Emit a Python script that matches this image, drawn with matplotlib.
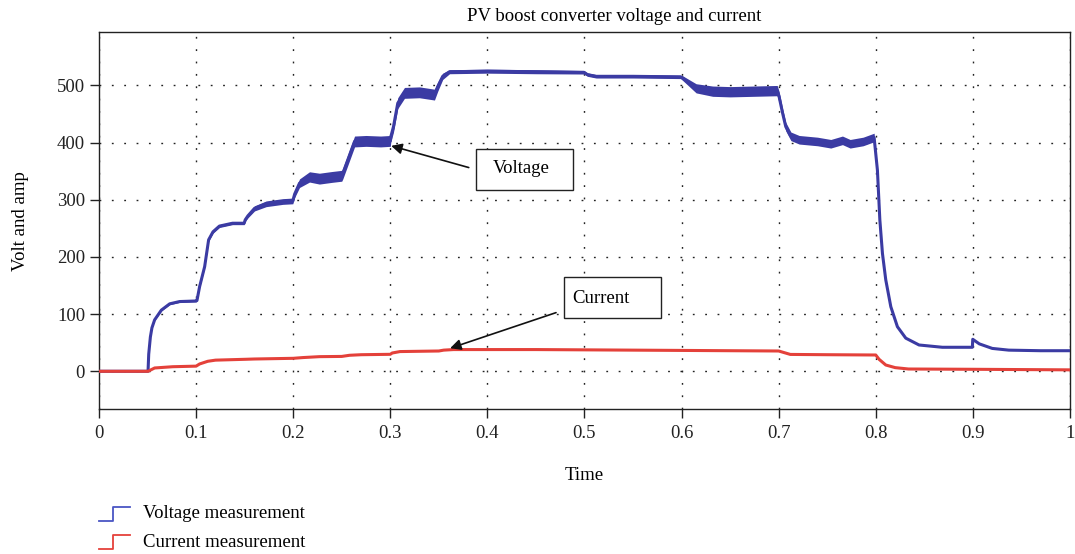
import matplotlib
matplotlib.use('Agg')
import matplotlib.pyplot as plt
from matplotlib.lines import Line2D
from matplotlib.patches import Rectangle
from matplotlib.legend_handler import HandlerBase

plt.rcParams['font.family'] = ['Liberation Serif', 'DejaVu Serif']
plt.rcParams['font.size'] = 13.5

# voltage measurement (V) and its ripple half-width
t_volt = [0, 0.0505, 0.0512, 0.0529, 0.0545, 0.0573, 0.0642, 0.0728, 0.083, 0.1,
          0.1009, 0.1036, 0.1088, 0.1129, 0.1174, 0.124, 0.1375, 0.1495,
          0.1506, 0.1534, 0.1602, 0.1722, 0.1893, 0.1996,
          0.2015, 0.2065, 0.2168, 0.227, 0.24, 0.25,
          0.2511, 0.2563, 0.2632, 0.275, 0.29, 0.3,
          0.3005, 0.3033, 0.3077, 0.3146, 0.33, 0.3455,
          0.3489, 0.354, 0.361, 0.4, 0.45, 0.4995,
          0.503, 0.512, 0.55, 0.599,
          0.601, 0.608, 0.615, 0.632, 0.65, 0.6985,
          0.7005, 0.704, 0.7073, 0.7126, 0.7211, 0.74, 0.7537, 0.7657, 0.7736, 0.787, 0.7983,
          0.8017, 0.8042, 0.8069, 0.8103, 0.8155, 0.8223, 0.8309, 0.8446, 0.8686, 0.8995,
          0.8999, 0.9066, 0.92, 0.937, 0.97, 1.0]
volt = [0, 0, 30, 60, 76, 90, 107, 118, 122, 123,
        124, 148, 183, 230, 244, 254, 259, 259,
        265, 272, 285, 293, 297, 298,
        310, 329, 340, 337, 340, 342,
        346, 370, 402, 403, 402, 403,
        410, 428, 469, 487, 488, 484,
        498, 516, 524, 525, 524, 523,
        519, 516, 516, 515,
        513, 504, 495, 490, 489, 491,
        480, 452, 428, 411, 405, 402, 398, 404, 398, 402, 409,
        352, 265, 206, 160, 113, 78, 58, 46, 42, 42,
        56, 48, 40, 37, 36, 36]
ripple = [0, 0, 1, 1, 1, 1, 1.5, 1.5, 1.5, 1.5,
          1.5, 2, 2, 2.5, 2.5, 2.5, 2.5, 2.5,
          3, 3.5, 4.5, 5, 5, 5,
          6, 7.5, 9, 9.5, 9.5, 9.5,
          9.5, 9.5, 9.5, 9.5, 9.5, 9.5,
          9.5, 9.5, 9.5, 9.5, 9.5, 9.5,
          8, 5.5, 3.5, 3.5, 3.5, 3,
          3, 3, 3, 3,
          4, 6, 8, 9, 9, 9,
          9, 8, 7.5, 7.5, 7.5, 7.5, 7.5, 7.5, 7.5, 7.5, 7.5,
          4, 2, 0.5, 0, 0, 0, 0, 0, 0, 0,
          0, 0, 0, 0, 0, 0]

# current measurement (A)
t_amp = [0, 0.0505, 0.0573, 0.076, 0.1, 0.1036, 0.112, 0.12, 0.1509, 0.16,
         0.2, 0.21, 0.227, 0.25, 0.258, 0.27, 0.3, 0.302, 0.31, 0.35,
         0.355, 0.365, 0.45, 0.5, 0.6, 0.65, 0.7, 0.705, 0.712, 0.75,
         0.8, 0.8034, 0.8103, 0.82, 0.8337, 0.9, 1.0]
amp = [0, 0, 5.8, 8, 9, 12.8, 17.5, 19.5, 21, 21.5,
       22.7, 24, 25.6, 26, 28, 29, 29.7, 32, 34.5, 35.5,
       37, 38, 38, 37.5, 36.5, 36, 35.5, 33, 29.5, 29,
       28.5, 21, 11, 6.4, 4, 3.5, 2.5]

x_ticks = [0, 0.1, 0.2, 0.3, 0.4, 0.5, 0.6, 0.7, 0.8, 0.9, 1]
x_labels = ['0', '0.1', '0.2', '0.3', '0.4', '0.5', '0.6', '0.7', '0.8', '0.9', '1']
y_ticks = [0, 100, 200, 300, 400, 500]

blue = '#3b3ba3'
red = '#e4413a'


class StepHandler(HandlerBase):
    # little step symbol like a scope legend
    def create_artists(self, legend, orig, xd, yd, w, h, fontsize, trans):
        xs = [xd, xd + w * 0.46, xd + w * 0.46, xd + w]
        ys = [yd - h * 0.2, yd - h * 0.2, yd + h * 0.85, yd + h * 0.85]
        ln = Line2D(xs, ys, color=orig.get_color(), lw=1.3, transform=trans)
        return [ln]


fig = plt.figure(figsize=(10.75, 5.54), dpi=100)
ax = fig.add_axes([0.0921, 0.2617, 0.9032, 0.68])

vlo = [v - r for v, r in zip(volt, ripple)]
vhi = [v + r for v, r in zip(volt, ripple)]
ax.fill_between(t_volt, vlo, vhi, color=blue, lw=0, zorder=3)
ax.plot(t_volt, volt, color=blue, lw=2.2, zorder=3)
ax.plot(t_amp, amp, color=red, lw=2.2, zorder=4)

ax.set_xlim(0, 1)
ax.set_ylim(-66, 593)
ax.set_xticks(x_ticks)
ax.set_xticklabels(x_labels)
ax.set_yticks(y_ticks)
ax.tick_params(direction='out', length=6.5, width=1.0, labelsize=13.5, colors='#222222')
ax.tick_params(axis='x', pad=5)
ax.grid(True, color='#222222', linestyle=(0, (1.3, 7.6)), lw=1.0)
for sp in ax.spines.values():
    sp.set_linewidth(1.0)
    sp.set_color('#222222')

ax.set_title('PV boost converter voltage and current', fontsize=13.5, pad=8, x=0.531)
ax.set_xlabel('Time', fontsize=13.5, labelpad=18)
ax.set_ylabel('Volt and amp', fontsize=13.5, labelpad=20)

# callout boxes
ax.add_patch(Rectangle((0.3884, 317.4), 0.0994, 71.2, fill=True, facecolor='white',
                       edgecolor='#222222', lw=1.0, zorder=5))
ax.text(0.406, 355, 'Voltage', fontsize=13.5, va='center', ha='left', zorder=6)
ax.annotate('', xy=(0.3009, 394.4), xytext=(0.3808, 356.4),
            arrowprops=dict(arrowstyle='-|>', color='#111111', lw=1.2,
                            mutation_scale=16, shrinkA=0, shrinkB=0), zorder=6)

ax.add_patch(Rectangle((0.4793, 92.8), 0.0995, 72.8, fill=True, facecolor='white',
                       edgecolor='#222222', lw=1.0, zorder=5))
ax.text(0.4875, 128, 'Current', fontsize=13.5, va='center', ha='left', zorder=6)
ax.annotate('', xy=(0.3616, 40.3), xytext=(0.4707, 102.6),
            arrowprops=dict(arrowstyle='-|>', color='#111111', lw=1.2,
                            mutation_scale=16, shrinkA=0, shrinkB=0), zorder=6)

handles = [Line2D([], [], color='#4a55c4'), Line2D([], [], color='#e5413a')]
fig.legend(handles, ['Voltage measurement', 'Current measurement'],
           handler_map={Line2D: StepHandler()},
           loc='upper left', bbox_to_anchor=(0.0917, 0.0883), frameon=False,
           fontsize=13.5, handlelength=1.7, handletextpad=0.65, labelspacing=0.6,
           borderaxespad=0, borderpad=0)

fig.savefig('out.png', dpi=100)
